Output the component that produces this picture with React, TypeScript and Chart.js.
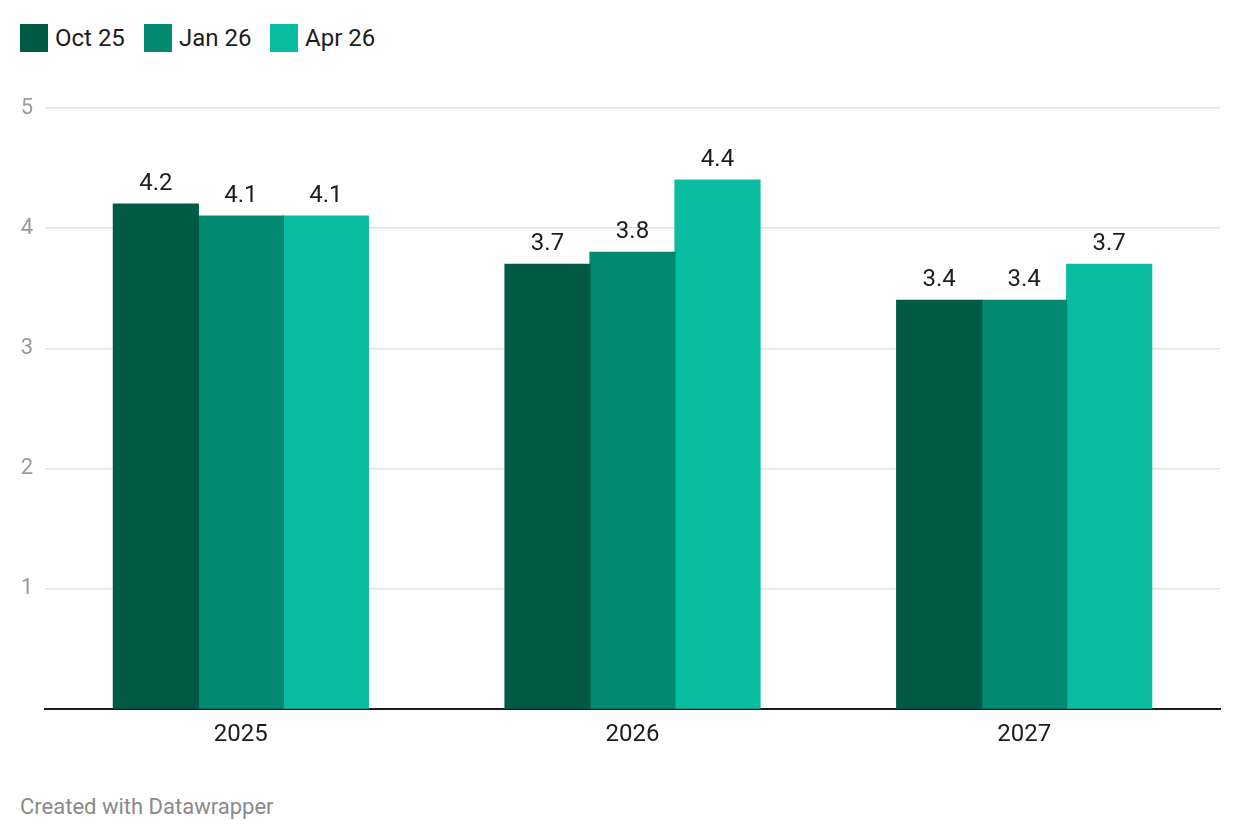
import React, { useEffect, useRef } from "react";
import { Chart, registerables } from "chart.js";

Chart.register(...registerables);

const categories = ["2025", "2026", "2027"];
const seriesNames = ["Oct 25", "Jan 26", "Apr 26"];
const oct25 = [4.2, 3.7, 3.4];
const jan26 = [4.1, 3.8, 3.4];
const apr26 = [4.1, 4.4, 3.7];
const colors = ["#015A46", "#02896F", "#0ABCA0"];
const yTicks = [0, 1, 2, 3, 4, 5];

const FONT = "Roboto, 'Noto Sans', sans-serif";

const valueLabels = {
  id: "valueLabels",
  afterDatasetsDraw(chart: any) {
    const ctx = chart.ctx;
    ctx.save();
    ctx.font = `24px ${FONT}`;
    ctx.fillStyle = "#1d1d1d";
    ctx.textAlign = "center";
    ctx.textBaseline = "alphabetic";
    chart.data.datasets.forEach((ds: any, i: number) => {
      const meta = chart.getDatasetMeta(i);
      meta.data.forEach((bar: any, j: number) => {
        ctx.fillText(ds.data[j].toFixed(1), bar.x, bar.y - 14);
      });
    });
    ctx.restore();
  },
};

export default function App() {
  const ref = useRef<HTMLCanvasElement>(null);
  useEffect(() => {
    if (!ref.current) return;
    const chart = new Chart(ref.current, {
      type: "bar",
      data: {
        labels: categories,
        datasets: [oct25, jan26, apr26].map((d, i) => ({
          label: seriesNames[i],
          data: d,
          backgroundColor: colors[i],
          borderWidth: 0,
          inflateAmount: 0.6,
          categoryPercentage: 0.651,
          barPercentage: 1,
        })),
      },
      options: {
        animation: false,
        responsive: false,
        maintainAspectRatio: false,
        devicePixelRatio: 1,
        layout: { padding: { left: 0, right: 20, top: 18, bottom: 0 } },
        plugins: {
          legend: { display: false },
          tooltip: { enabled: false },
        },
        scales: {
          x: {
            grid: { display: false, drawTicks: false },
            border: { color: "#1d1d1d", width: 2 },
            ticks: {
              color: "#1d1d1d",
              font: { family: FONT, size: 24 },
              padding: 12,
            },
            afterFit(scale: any) {
              scale.height = 61;
            },
          },
          y: {
            min: 0,
            max: 5,
            afterBuildTicks(scale: any) {
              scale.ticks = yTicks.map((v) => ({ value: v }));
            },
            grid: { color: "#e2e2e2", lineWidth: 1.5, drawTicks: false },
            border: { display: false },
            ticks: {
              color: "#9a9a9a",
              font: { family: FONT, size: 22 },
              padding: 12,
              callback: (v: any) => (v === 0 ? "" : String(v)),
            },
            afterFit(scale: any) {
              scale.width = 45;
              scale.paddingTop = 0;
            },
          },
        },
      },
      plugins: [valueLabels],
    });
    return () => chart.destroy();
  }, []);

  const legendLeft = [20, 144, 270];

  return (
    <div
      style={{
        position: "fixed",
        left: 0,
        top: 0,
        width: 1240,
        height: 840,
        background: "#fff",
        fontFamily: FONT,
      }}
    >
      {seriesNames.map((name, i) => (
        <div
          key={name}
          style={{
            position: "absolute",
            left: legendLeft[i],
            top: 24,
            height: 28,
            display: "flex",
            alignItems: "center",
            fontSize: 24,
            color: "#1d1d1d",
            whiteSpace: "nowrap",
          }}
        >
          <span
            style={{
              display: "inline-block",
              width: 28,
              height: 28,
              background: colors[i],
              marginRight: 7,
            }}
          />
          <span>{name}</span>
        </div>
      ))}
      <canvas
        ref={ref}
        width={1240}
        height={680}
        style={{ position: "absolute", left: 0, top: 90, width: 1240, height: 680 }}
      />
      <div
        style={{
          position: "absolute",
          left: 20,
          top: 794,
          fontSize: 22,
          color: "#8a8a8a",
          whiteSpace: "nowrap",
        }}
      >
        Created with Datawrapper
      </div>
    </div>
  );
}
